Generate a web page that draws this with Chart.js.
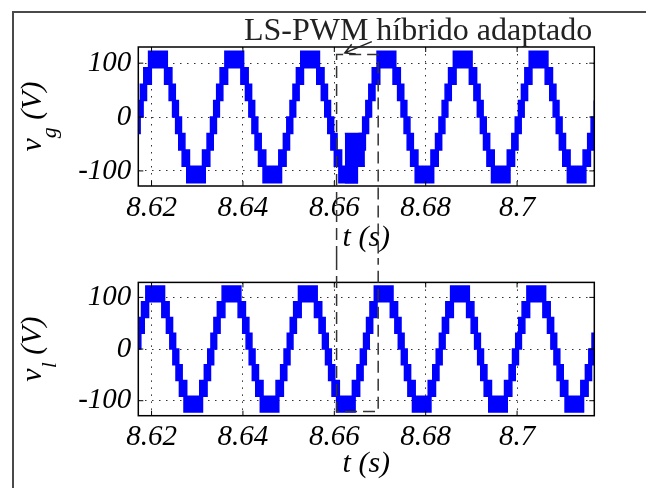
<!DOCTYPE html>
<html>
<head>
<meta charset="utf-8">
<script src="https://cdn.jsdelivr.net/npm/chart.js@4.4.1/dist/chart.umd.min.js"></script>
<style>
  html, body { margin: 0; padding: 0; background: #fff; }
  body { width: 646px; height: 488px; position: relative; overflow: hidden; }
  #frame { position: absolute; left: 12px; top: 11px; width: 700px; height: 600px;
           border-left: 2px solid #4a4a4a; border-top: 2px solid #4a4a4a; }
  .pane { position: absolute; left: 0; width: 646px; }
  #paneG { top: 0; height: 258px; }
  #paneL { top: 258px; height: 230px; }
</style>
</head>
<body>
<div id="frame"></div>
<div class="pane" id="paneG"><canvas id="chartG" width="646" height="258"></canvas></div>
<div class="pane" id="paneL"><canvas id="chartL" width="646" height="230"></canvas></div>
<script>
const xTicks = [8.62, 8.64, 8.66, 8.68, 8.70];
const xTickLabels = ['8.62', '8.64', '8.66', '8.68', '8.7'];
const yTicks = [-100, 0, 100];

// output voltage levels of the converter (V)
const levels = [-122, -91.5, -61, -30.5, 0, 30.5, 61, 91.5, 122];

// one period: segment edges in ms from the positive peak,
// and for each segment the band (index of its lower level) the output switches in
const segEdgesMs = [-1.75, 1.75, 2.75, 3.5, 4.17, 4.85, 5.6, 6.6, 10.05, 11.05, 11.8, 12.5, 13.15, 13.9, 14.92];
const segBand = [7, 6, 5, 4, 3, 2, 1, 0, 1, 2, 3, 4, 5, 6];
// neighbouring bands overlap a little around each edge (ms)
const overlapMs = 0.3;

// positive peak instants (s)
const peaksVg = [8.6047, 8.6214, 8.6381, 8.6547, 8.6714, 8.6881, 8.7047];
const peaksVl = [8.6042, 8.6208, 8.6375, 8.6542, 8.6708, 8.6875, 8.7042];

// extra switching on v_g inside the marked window
const burstT = [8.6623, 8.6650, 8.6667];
const burstHi = [-30.5, -30.5];
const burstLo = [-122, -91.5];

// dashed window and arrow
const winT = [8.6605, 8.6696];
const winTopVg = 116;
const winBotVl = -121;
const arrowTip = { t: 8.6623, v: 119 };
const arrowTail = { t: 8.6682, v: 140 };
const titleText = 'LS-PWM híbrido adaptado';

const BLUE = '#0000ff';
const serif = "'Liberation Serif', 'Times New Roman', serif";

function envelope(peaks) {
  // list every segment of every period
  const segs = [];
  peaks.forEach((p, i) => {
    segBand.forEach((b, k) => {
      const t0 = p + segEdgesMs[k] / 1000;
      let t1 = p + segEdgesMs[k + 1] / 1000;
      if (k === segBand.length - 1 && i < peaks.length - 1) t1 = peaks[i + 1] + segEdgesMs[0] / 1000;
      segs.push({ t0, t1, b });
    });
  });
  const d = overlapMs / 1000;
  const hi = [{ x: segs[0].t0, y: levels[segs[0].b + 1] }];
  const lo = [{ x: segs[0].t0, y: levels[segs[0].b] }];
  for (let j = 0; j < segs.length - 1; j++) {
    const a = segs[j], c = segs[j + 1];
    const down = c.b < a.b;
    const th = a.t1 + (down ? d : -d);
    const tl = a.t1 + (down ? -d : d);
    hi.push({ x: th, y: levels[a.b + 1] }, { x: th, y: levels[c.b + 1] });
    lo.push({ x: tl, y: levels[a.b] }, { x: tl, y: levels[c.b] });
  }
  const last = segs[segs.length - 1];
  hi.push({ x: last.t1, y: levels[last.b + 1] });
  lo.push({ x: last.t1, y: levels[last.b] });
  return { hi, lo };
}

function blockPts(ts, vs) {
  const out = [];
  vs.forEach((v, i) => { out.push({ x: ts[i], y: v }, { x: ts[i + 1], y: v }); });
  return out;
}

function lineDs(data, fill) {
  return { data, fill, borderColor: BLUE, backgroundColor: BLUE, borderWidth: 1.5,
           pointRadius: 0, tension: 0 };
}

function decor(sub, isTop) {
  return {
    id: 'decor',
    afterDatasetsDraw(chart) {
      const { ctx, chartArea: ca, scales: { x, y } } = chart;
      ctx.save();
      ctx.setLineDash([]);
      ctx.strokeStyle = '#000';
      ctx.lineWidth = 1.5;
      ctx.strokeRect(ca.left, ca.top, ca.right - ca.left, ca.bottom - ca.top);

      // inward tick marks
      ctx.lineWidth = 1;
      ctx.beginPath();
      xTicks.forEach(v => {
        const px = x.getPixelForValue(v);
        ctx.moveTo(px, ca.bottom); ctx.lineTo(px, ca.bottom - 5);
        ctx.moveTo(px, ca.top); ctx.lineTo(px, ca.top + 5);
      });
      yTicks.forEach(v => {
        const py = y.getPixelForValue(v);
        ctx.moveTo(ca.left, py); ctx.lineTo(ca.left + 5, py);
        ctx.moveTo(ca.right, py); ctx.lineTo(ca.right - 5, py);
      });
      ctx.stroke();

      // y axis title with subscript
      const big = 'italic 30px ' + serif, small = 'italic 22px ' + serif;
      ctx.fillStyle = '#000';
      ctx.textBaseline = 'alphabetic';
      ctx.textAlign = 'left';
      ctx.font = big;
      const wv = ctx.measureText('v').width, wr = ctx.measureText(' (V)').width;
      ctx.font = small;
      const ws = ctx.measureText(sub).width;
      ctx.translate(41, (ca.top + ca.bottom) / 2);
      ctx.rotate(-Math.PI / 2);
      const x0 = -(wv + ws + wr) / 2;
      ctx.font = big; ctx.fillText('v', x0, 0);
      ctx.font = small; ctx.fillText(sub, x0 + wv, 15);
      ctx.font = big; ctx.fillText(' (V)', x0 + wv + ws, 0);
      ctx.setTransform(1, 0, 0, 1, 0, 0);

      // dashed window
      const xa = x.getPixelForValue(winT[0]), xb = x.getPixelForValue(winT[1]);
      ctx.strokeStyle = '#333';
      ctx.lineWidth = 1.5;
      ctx.setLineDash([12, 6]);
      ctx.beginPath();
      if (isTop) {
        const yt = y.getPixelForValue(winTopVg);
        ctx.moveTo(xa, chart.height); ctx.lineTo(xa, yt); ctx.lineTo(xb, yt); ctx.lineTo(xb, chart.height);
      } else {
        const yb = y.getPixelForValue(winBotVl);
        ctx.moveTo(xa, 0); ctx.lineTo(xa, yb); ctx.lineTo(xb, yb); ctx.lineTo(xb, 0);
      }
      ctx.stroke();

      if (isTop) {
        ctx.setLineDash([]);
        ctx.fillStyle = '#222';
        ctx.font = '32px ' + serif;
        ctx.textAlign = 'right';
        ctx.fillText(titleText, ca.right - 2, ca.top - 7);

        const tx = x.getPixelForValue(arrowTip.t), ty = y.getPixelForValue(arrowTip.v);
        const sx = x.getPixelForValue(arrowTail.t), sy = y.getPixelForValue(arrowTail.v);
        const ang = Math.atan2(sy - ty, sx - tx);
        ctx.strokeStyle = '#222';
        ctx.lineWidth = 1.5;
        ctx.beginPath();
        ctx.moveTo(sx, sy); ctx.lineTo(tx, ty);
        ctx.moveTo(tx + 11 * Math.cos(ang + 0.5), ty + 11 * Math.sin(ang + 0.5));
        ctx.lineTo(tx, ty);
        ctx.lineTo(tx + 11 * Math.cos(ang - 0.5), ty + 11 * Math.sin(ang - 0.5));
        ctx.stroke();
      }
      ctx.restore();
    }
  };
}

function makeChart(id, peaks, extra, opt) {
  const env = envelope(peaks);
  const datasets = [lineDs(env.hi, false), lineDs(env.lo, '-1')];
  if (extra) {
    datasets.push(lineDs(blockPts(extra.t, extra.hi), false));
    datasets.push(lineDs(blockPts(extra.t, extra.lo), '-1'));
  }
  const tickFont = { family: serif, size: 29, style: 'italic' };
  const grid = { color: '#333', lineWidth: 1, drawTicks: false };
  return new Chart(document.getElementById(id), {
    type: 'line',
    data: { datasets },
    options: {
      responsive: false,
      animation: false,
      events: [],
      layout: { padding: { top: opt.padTop, right: 646 - 594.3, left: 0, bottom: 0 } },
      plugins: { legend: { display: false }, tooltip: { enabled: false } },
      scales: {
        x: {
          type: 'linear', min: 8.6171, max: 8.7169,
          afterBuildTicks: s => { s.ticks = xTicks.map(v => ({ value: v })); },
          afterFit: s => { s.height = opt.xAxisH; },
          ticks: { callback: (v, i) => xTickLabels[i], font: tickFont, color: '#000',
                   padding: opt.xTickPad, maxRotation: 0, autoSkip: false },
          grid,
          border: { display: false, dash: [1.5, 5.5] },
          title: { display: true, text: 't (s)', color: '#000',
                   font: { family: serif, size: 30, style: 'italic' },
                   padding: { top: 0, bottom: opt.titlePad } }
        },
        y: {
          type: 'linear', min: opt.yMin, max: opt.yMax,
          afterBuildTicks: s => { s.ticks = yTicks.map(v => ({ value: v })); },
          afterFit: s => { s.width = 138.3; },
          ticks: { callback: v => String(v), font: tickFont, color: '#000', padding: 7 },
          grid,
          border: { display: false, dash: [1.5, 5.5] }
        }
      }
    },
    plugins: [decor(opt.sub, opt.isTop)]
  });
}

makeChart('chartG', peaksVg, { t: burstT, hi: burstHi, lo: burstLo },
  { padTop: 47, xAxisH: 258 - 186, xTickPad: 5, titlePad: 2, yMin: -128, yMax: 130, sub: 'g', isTop: true });
makeChart('chartL', peaksVl, null,
  { padTop: 18, xAxisH: 230 - 157.7, xTickPad: 4, titlePad: 6, yMin: -129, yMax: 129, sub: 'l', isTop: false });
</script>
</body>
</html>
